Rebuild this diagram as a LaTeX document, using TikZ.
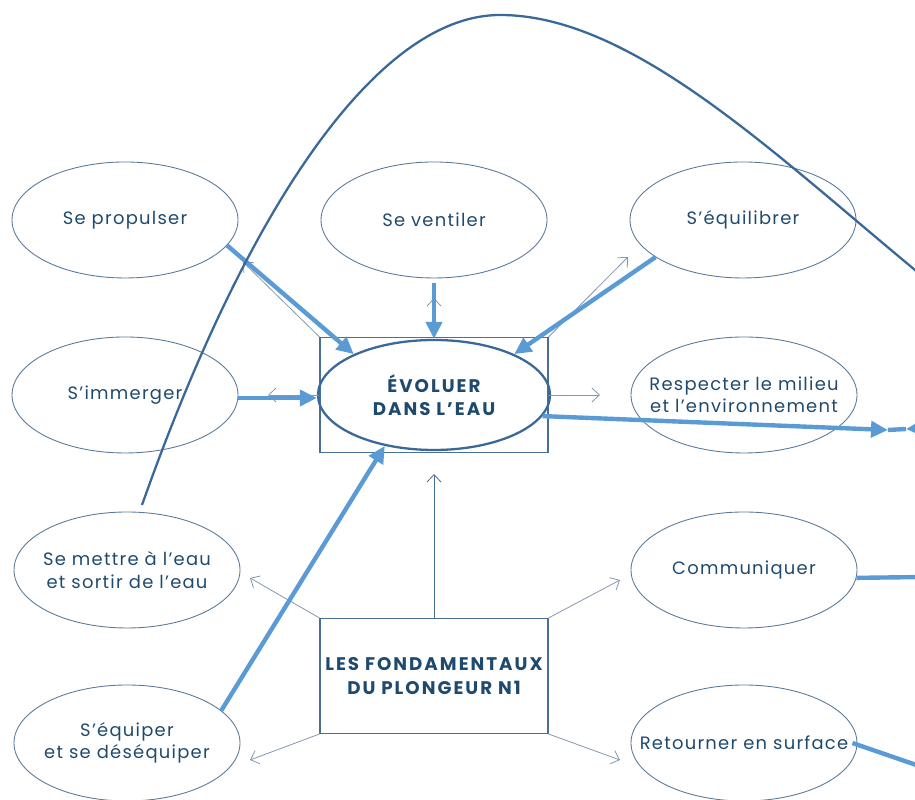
\documentclass[tikz,border=0pt]{standalone}
\usepackage{fontspec}
\setmainfont[LetterSpace=7]{Poppins}
\usepackage{tikz}
\usetikzlibrary{arrows.meta,shapes.geometric}
\definecolor{inkblue}{HTML}{1F4A6E}
\definecolor{ringc}{HTML}{5B7A99}
\definecolor{boxc}{HTML}{4A6F94}
\definecolor{thinc}{HTML}{8497AD}
\definecolor{bluec}{HTML}{5B9BD5}
\definecolor{darkc}{HTML}{3A6898}
\tikzset{
  skill/.style={ellipse,draw=ringc,line width=0.5pt,minimum width=4.52cm,minimum height=2.32cm,align=center,text=inkblue,inner sep=0pt,font=\fontsize{10.2}{12.8}\selectfont},
  hubbox/.style={rectangle,draw=boxc,line width=0.6pt,minimum width=4.56cm,minimum height=2.3cm,align=center,text=inkblue,font=\fontsize{10.4}{13.4}\selectfont\bfseries\addfontfeatures{LetterSpace=11}},
  hubring/.style={ellipse,draw=darkc,line width=1.3pt,minimum width=4.64cm,minimum height=2.2cm,align=center,text=inkblue,inner sep=0pt,font=\fontsize{10.4}{13.4}\selectfont\bfseries\addfontfeatures{LetterSpace=11}},
  thinarr/.style={-{Straight Barb[length=1.5mm,width=2.8mm]},line width=0.45pt,draw=thinc},
  bluearr/.style={-{Triangle[length=3.4mm,width=3.2mm]},line width=2.5pt,draw=bluec},
  blueline/.style={line width=2.5pt,draw=bluec},
  arcline/.style={line width=1.3pt,draw=darkc}
}
\begin{document}
\begin{tikzpicture}
  \useasboundingbox (0,0) rectangle (18.3,16);
  % outer skills
  \foreach \nm/\x/\y/\txt in {propulser/2.5/11.6/{Se propulser},ventiler/8.68/11.6/{Se ventiler},
      equilibrer/14.86/11.6/{S’équilibrer},immerger/2.5/8.1/{S’immerger},
      respecter/14.88/8.1/{\makebox[3cm]{Respecter le milieu}\\\makebox[3cm]{et l’environnement}},
      mettre/2.54/4.6/{\makebox[3cm]{Se mettre à l’eau}\\\makebox[3cm]{et sortir de l’eau}},
      communiquer/14.88/4.6/{Communiquer},
      equiper/2.54/1.14/{S’équiper\\\makebox[3cm]{et se déséquiper}},
      retourner/14.88/1.14/{\makebox[3cm]{Retourner en surface}}}{
    \node[skill] (\nm) at (\x,\y) {\txt};
  }
  \node[hubbox] (evolbox) at (8.68,8.1) {};
  \node[hubring] (evoluer) at (8.68,8.1) {ÉVOLUER\\DANS L’EAU};
  \node[hubbox] (fond) at (8.68,2.48) {\makebox[3.5cm]{LES FONDAMENTAUX}\\DU PLONGEUR N1};

  % free ends
  \coordinate (tlend) at (4.86,10.76);
  \coordinate (trend) at (12.56,10.86);
  \coordinate (topend) at (8.68,10.04);
  \coordinate (lfend) at (5.36,8.1);
  \coordinate (rtend) at (12.0,8.1);
  \coordinate (upend) at (8.68,6.52);
  \coordinate (f1) at (5.0,4.44);
  \coordinate (f2) at (12.4,4.4);
  \coordinate (f3) at (5.0,0.8);
  \coordinate (f4) at (12.4,0.8);
  \coordinate (farA) at (17.76,7.4);
  \coordinate (farB) at (18.12,7.42);
  \coordinate (farC) at (18.9,7.46);
  \coordinate (comend) at (18.5,4.46);
  \coordinate (retend) at (18.5,0.64);
  \coordinate (arcstart) at (2.84,5.9);
  \coordinate (arctop) at (10.0,15.7);
  \coordinate (arcend) at (18.3,10.6);

  % thin connectors
  \draw[thinarr] (evolbox.north west) -- (tlend);
  \draw[thinarr] (evolbox.north east) -- (trend);
  \draw[thinarr] (evolbox.north) -- (topend);
  \draw[thinarr] (evolbox.west) -- (lfend);
  \draw[thinarr] (evolbox.east) -- (rtend);
  \draw[thinarr,draw=boxc] (fond.north) -- (upend);
  \draw[thinarr] (fond.north west) -- (f1);
  \draw[thinarr] (fond.north east) -- (f2);
  \draw[thinarr] (fond.south west) -- (f3);
  \draw[thinarr] (fond.south east) -- (f4);

  % thick blue links
  \draw[bluearr] (propulser.-14) -- (evoluer.153);
  \draw[bluearr] ([yshift=-0.1cm]ventiler.south) -- (evoluer.north);
  \draw[bluearr] (equilibrer.203) -- (evoluer.27);
  \draw[bluearr] ([yshift=-0.06cm]immerger.east) -- ([yshift=-0.06cm]evoluer.west);
  \draw[bluearr] (equiper.19) -- (evoluer.226);
  \draw[bluearr] (evoluer.-11) -- (farA);
  \draw[blueline] (farA) -- (farB);
  \draw[bluearr] (farC) -- (farB);
  \draw[blueline] (communiquer.-4) -- (comend);
  \draw[blueline] ([xshift=-0.1cm]retourner.east) -- (retend);

  % long arc
  \draw[arcline] (arcstart) .. controls (5.0,12.0) and (7.6,15.7) .. (arctop)
    .. controls (12.6,15.7) and (15.4,13.0) .. (arcend) -- ++(0.6,-0.6);
\end{tikzpicture}
\end{document}
